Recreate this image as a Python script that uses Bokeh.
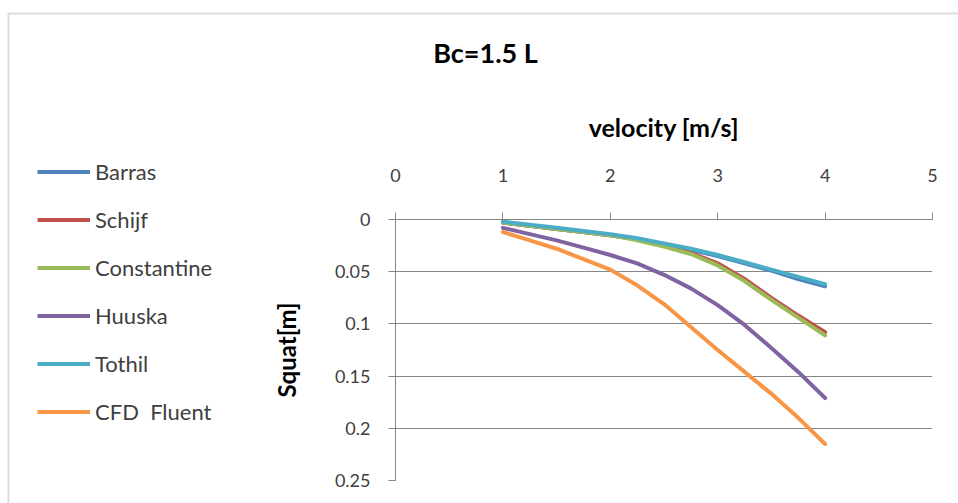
from bokeh.plotting import figure
from bokeh.models import Range1d, FixedTicker, Legend, LegendItem, LinearAxis, Label, BoxAnnotation
from bokeh.embed import file_html
from bokeh.resources import INLINE

# data
velocity = [1, 1.25, 1.5, 1.75, 2, 2.25, 2.5, 2.75, 3, 3.25, 3.5, 3.75, 4]
barras = [0.003, 0.006, 0.009, 0.012, 0.015, 0.019, 0.024, 0.029, 0.035, 0.042, 0.049, 0.057, 0.064]
schijf = [0.003, 0.006, 0.009, 0.012, 0.015, 0.019, 0.025, 0.032, 0.042, 0.057, 0.075, 0.092, 0.108]
constantine = [0.003, 0.006, 0.009, 0.012, 0.015, 0.020, 0.026, 0.033, 0.044, 0.059, 0.077, 0.094, 0.111]
huuska = [0.008, 0.014, 0.020, 0.027, 0.034, 0.042, 0.053, 0.066, 0.082, 0.101, 0.123, 0.146, 0.171]
tothil = [0.002, 0.005, 0.008, 0.011, 0.014, 0.018, 0.023, 0.028, 0.034, 0.041, 0.048, 0.055, 0.062]
cfd_fluent = [0.012, 0.020, 0.028, 0.038, 0.048, 0.063, 0.081, 0.103, 0.125, 0.146, 0.167, 0.190, 0.215]

series_names = ["Barras", "Schijf", "Constantine", "Huuska", "Tothil", "CFD  Fluent"]
series_values = [barras, schijf, constantine, huuska, tothil, cfd_fluent]
colors = ["#4F81BD", "#C0504D", "#9BBB59", "#8064A2", "#4BACC6", "#F79646"]

title_text = "Bc=1.5 L"
x_label = "velocity [m/s]"
y_label = "Squat[m]"
x_ticks = [0, 1, 2, 3, 4, 5]
y_ticks = [0, 0.05, 0.1, 0.15, 0.2, 0.25]
y_tick_labels = ["0", "0.05", "0.1", "0.15", "0.2", "0.25"]

FONT = "Lato"
GRAY = "#868686"
TXT = "#404040"
W, H = 958, 503

# ---- main chart ----
p = figure(width=W, height=H, output_backend="svg", toolbar_location=None,
           x_range=Range1d(0, 5), y_range=Range1d(0.25, 0),
           x_axis_location=None, y_axis_location="left",
           min_border_left=395, min_border_right=26, min_border_top=219, min_border_bottom=23,
           outline_line_color=None, background_fill_color="white", border_fill_color="white")

xaxis = LinearAxis(ticker=FixedTicker(ticks=x_ticks), axis_label=x_label)
p.add_layout(xaxis, "above")
xaxis.axis_line_color = GRAY
xaxis.major_tick_line_color = GRAY
xaxis.major_tick_out = 7
xaxis.major_tick_in = 0
xaxis.minor_tick_line_color = None
xaxis.major_label_standoff = 31
xaxis.major_label_text_font = FONT
xaxis.major_label_text_font_size = "18px"
xaxis.major_label_text_color = TXT
xaxis.axis_label_text_font = FONT
xaxis.axis_label_text_font_size = "25px"
xaxis.axis_label_text_font_style = "bold"
xaxis.axis_label_text_color = "#000000"
xaxis.axis_label_standoff = 24

yaxis = p.yaxis[0]
yaxis.ticker = FixedTicker(ticks=y_ticks)
yaxis.major_label_overrides = {t: l for t, l in zip(y_ticks, y_tick_labels)}
yaxis.axis_label = y_label
yaxis.axis_line_color = GRAY
yaxis.major_tick_line_color = GRAY
yaxis.major_tick_out = 7
yaxis.major_tick_in = 0
yaxis.minor_tick_line_color = None
yaxis.major_label_standoff = 18
yaxis.major_label_text_font = FONT
yaxis.major_label_text_font_size = "18px"
yaxis.major_label_text_color = TXT
yaxis.axis_label_text_font = FONT
yaxis.axis_label_text_font_size = "24px"
yaxis.axis_label_text_font_style = "bold"
yaxis.axis_label_text_color = "#000000"
yaxis.axis_label_standoff = 31

p.xgrid.visible = False
p.ygrid.ticker = FixedTicker(ticks=y_ticks)
p.ygrid.grid_line_color = GRAY
p.ygrid.grid_line_width = 1

for name, vals, col in zip(series_names, series_values, colors):
    p.line(velocity, vals, line_color=col, line_width=4, line_join="round", line_cap="round")

# ---- transparent overlay in pixel units: legend, title, chart border ----
ov = figure(width=W, height=H, output_backend="svg", toolbar_location=None,
            x_range=Range1d(0, W), y_range=Range1d(0, H),
            x_axis_location=None, y_axis_location=None,
            min_border_left=0, min_border_right=0, min_border_top=0, min_border_bottom=0,
            outline_line_color=None, background_fill_alpha=0, border_fill_alpha=0,
            styles={"position": "absolute", "left": "0px", "top": "0px"})
ov.xgrid.visible = False
ov.ygrid.visible = False

items = []
for name, vals, col in zip(series_names, series_values, colors):
    proxy = ov.line(velocity, vals, line_color=col, line_width=4, visible=False)
    items.append(LegendItem(label=name, renderers=[proxy]))

legend = Legend(items=items, location=(37, 78), orientation="vertical",
                glyph_width=53, glyph_height=27, label_height=27, spacing=21,
                label_standoff=5, padding=0, margin=0,
                label_text_font=FONT, label_text_font_size="22px", label_text_color=TXT,
                border_line_color=None, background_fill_alpha=0, inactive_fill_alpha=0)
ov.add_layout(legend, "center")

ov.add_layout(Label(x=485, y=H - 52, text=title_text, text_align="center", text_baseline="middle",
                    text_font=FONT, text_font_size="27px", text_font_style="bold",
                    text_color="#000000"))

ov.add_layout(BoxAnnotation(left=8, right=W + 20, top=H - 13, bottom=-20,
                            fill_alpha=0, line_color="#8c8c8c", line_width=2))

open("out.html", "w").write(file_html([p, ov], INLINE))
